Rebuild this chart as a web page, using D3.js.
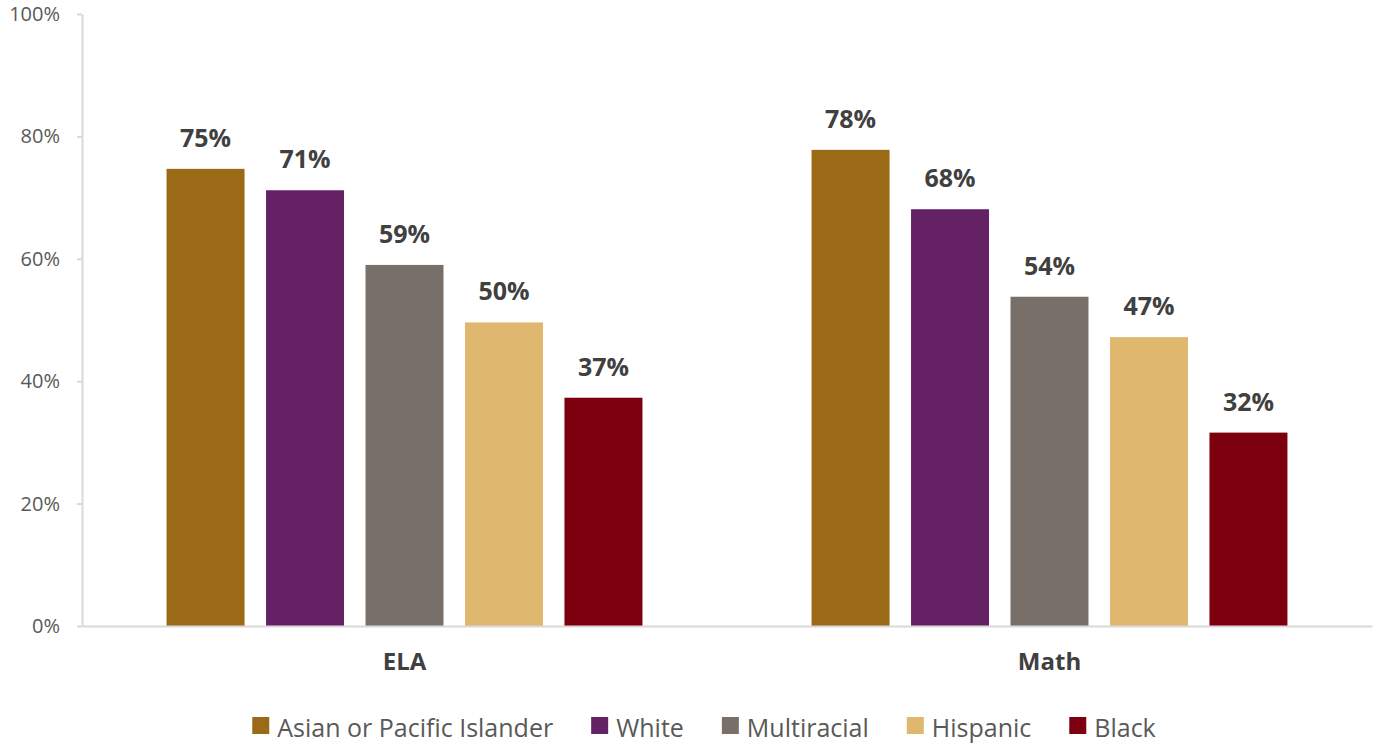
<!DOCTYPE html>
<html><head><meta charset="utf-8">
<script src="https://cdn.jsdelivr.net/npm/d3@7"></script>
<style>body{margin:0;background:#fff}svg{display:block}</style>
</head><body>
<svg id="chart" width="1379" height="746"></svg>
<script>
const categories = ["ELA", "Math"];
const seriesNames = ["Asian or Pacific Islander", "White", "Multiracial", "Hispanic", "Black"];
const seriesColors = ["#9A6A16", "#642265", "#787068", "#DFB76F", "#7C000E"];
const elaValues = [74.7, 71.2, 59.0, 49.6, 37.3];
const mathValues = [77.8, 68.1, 53.8, 47.2, 31.6];
const yTicks = [0, 20, 40, 60, 80, 100];

(function() {
const valuesByCat = {ELA: elaValues, Math: mathValues};
const svg = d3.select("#chart");
const mLeft = 82, mRight = 1372, mTop = 14, mBottom = 626;
const font = "'Open Sans', sans-serif";

const y = d3.scaleLinear().domain([0, 100]).range([mBottom, mTop]);
const x0 = d3.scaleBand().domain(categories).range([mLeft, mRight]).padding(0);
const x1 = d3.scaleBand().domain(seriesNames).range([0, x0.bandwidth()])
  .paddingInner(0.216).paddingOuter(0.85);

// y axis
const yAxis = svg.append("g").attr("transform", `translate(${mLeft},0)`)
  .call(d3.axisLeft(y).tickValues(yTicks).tickFormat(d => d + "%").tickSizeInner(5).tickSizeOuter(0).tickPadding(17));
yAxis.select(".domain").attr("stroke", "#d9d9d9").attr("stroke-width", 2);
yAxis.selectAll(".tick line").attr("stroke", "#d9d9d9").attr("stroke-width", 2);
yAxis.selectAll(".tick text").attr("fill", "#595959").style("font-family", font).style("font-size", "20px");

// bars
const groups = svg.append("g").selectAll("g").data(categories).join("g")
  .attr("transform", d => `translate(${x0(d)},0)`);
groups.selectAll("rect").data(c => valuesByCat[c].map((v, i) => ({v, s: seriesNames[i], i})))
  .join("rect")
  .attr("x", d => x1(d.s)).attr("width", x1.bandwidth())
  .attr("y", d => y(d.v)).attr("height", d => y(0) - y(d.v))
  .attr("fill", d => seriesColors[d.i]);
groups.selectAll("text").data(c => valuesByCat[c].map((v, i) => ({v, s: seriesNames[i], i})))
  .join("text")
  .attr("x", d => x1(d.s) + x1.bandwidth() / 2).attr("y", d => y(d.v) - 22)
  .attr("text-anchor", "middle").attr("fill", "#404040")
  .style("font-family", font).style("font-size", "25px").style("font-weight", "bold")
  .text(d => Math.round(d.v) + "%");

// x axis
const xAxis = svg.append("g").attr("transform", `translate(0,${mBottom})`)
  .call(d3.axisBottom(x0).tickSize(0).tickPadding(27));
xAxis.select(".domain").attr("stroke", "#d9d9d9").attr("stroke-width", 2);
xAxis.selectAll(".tick text").attr("fill", "#404040").style("font-family", font)
  .style("font-size", "24px").style("font-weight", "bold");

// legend
const legend = svg.append("g");
const items = legend.selectAll("g").data(seriesNames).join("g");
items.append("rect").attr("width", 17).attr("height", 17).attr("y", -20)
  .attr("fill", (d, i) => seriesColors[i]);
items.append("text").attr("x", 25).attr("y", 0).attr("fill", "#595959")
  .style("font-family", font).style("font-size", "25px").text(d => d);
let cx = 0; const gap = 38;
items.each(function() {
  const w = d3.select(this).select("text").node().getComputedTextLength() + 25;
  d3.select(this).attr("transform", `translate(${cx},0)`);
  cx += w + gap;
});
const total = cx - gap;
legend.attr("transform", `translate(${704 - total / 2},737)`);
})();
</script>
</body></html>
